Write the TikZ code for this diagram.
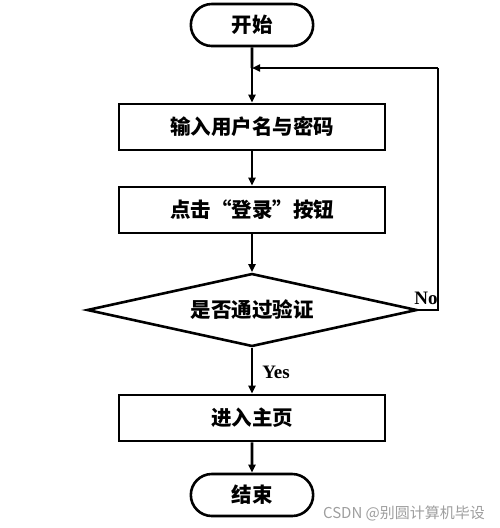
\documentclass[tikz,border=0pt]{standalone}
\usepackage{fontspec}
\usepackage{tikz}
\usetikzlibrary{shapes.geometric}
\usetikzlibrary{shapes.misc}
\usetikzlibrary{arrows.meta}
\pgfdeclarelayer{edgelayer}
\pgfdeclarelayer{nodelayer}
\pgfsetlayers{edgelayer,nodelayer,main}
\newfontfamily\cjk{Noto Sans CJK SC}
\newfontfamily\lat{Liberation Serif}
\tikzstyle{none}=[inner sep=0pt]
\tikzstyle{terminal}=[rounded rectangle, draw, line width=2.6pt, fill=white, minimum width=129pt, minimum height=42pt, font=\cjk\bfseries\fontsize{20.5}{20.5}\selectfont]
\tikzstyle{process}=[rectangle, draw, line width=2.6pt, fill=white, minimum width=266pt, minimum height=46pt, font=\cjk\bfseries\fontsize{20.5}{20.5}\selectfont]
\tikzstyle{decision}=[diamond, draw, line width=2.6pt, fill=white, aspect=4.4, inner sep=0pt, minimum width=330pt, minimum height=73pt, font=\cjk\bfseries\fontsize{20.5}{20.5}\selectfont]
\definecolor{wmgray}{rgb}{0.62,0.62,0.62}

\begin{document}
\begin{tikzpicture}[x=1pt, y=-1pt, >={Triangle[length=8pt,width=7pt]}]
	\useasboundingbox (0,0) rectangle (500,528);
	\begin{pgfonlayer}{nodelayer}
		\node [style=terminal] (0) at (252, 25) {开始};
		\node [style=process] (1) at (252, 127) {输入用户名与密码};
		\node [style=process] (2) at (252, 210) {点击“登录”按钮};
		\node [style=decision] (3) at (252, 310) {是否通过验证};
		\node [style=process] (4) at (252, 418) {进入主页};
		\node [style=terminal] (5) at (252, 495) {结束};
		\coordinate (6) at (252, 68);
		\coordinate (7) at (438, 310);
		\coordinate (8) at (438, 68);
		\node [style=none, font=\lat\bfseries\fontsize{19}{19}\selectfont] (9) at (426, 298) {No};
		\node [style=none, font=\lat\bfseries\fontsize{19}{19}\selectfont] (10) at (276, 372) {Yes};
		\node [style=none, color=wmgray, font=\cjk\fontsize{15}{15}\selectfont] (11) at (404, 513) {CSDN @别圆计算机毕设};
	\end{pgfonlayer}
	\begin{pgfonlayer}{edgelayer}
		\draw [line width=2.6pt] (0) to (6);
		\draw [line width=2.6pt, ->] (6) to (1);
		\draw [line width=2.6pt, ->] (1) to (2);
		\draw [line width=2.6pt, ->] (2) to (3);
		\draw [line width=2.6pt] (3.east) to (7) to (8);
		\draw [line width=2.6pt, ->] (8) to (6);
		\draw [line width=2.6pt, ->] (3) to (4);
		\draw [line width=2.6pt, ->] (4) to (5);
	\end{pgfonlayer}
\end{tikzpicture}
\end{document}
